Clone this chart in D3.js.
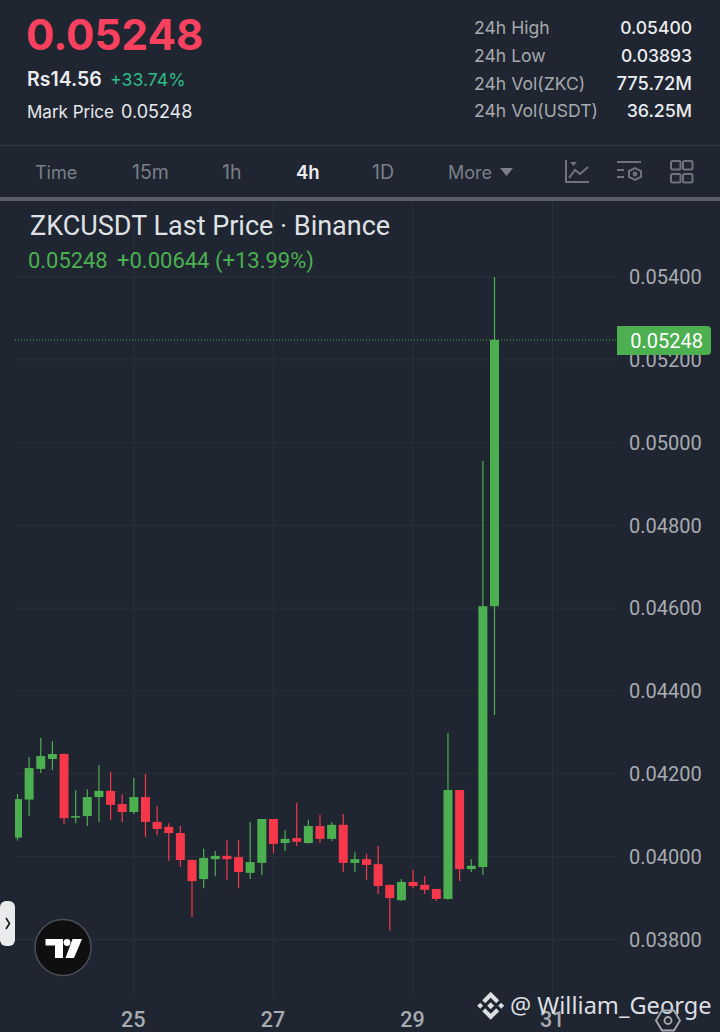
<!DOCTYPE html>
<html><head><meta charset="utf-8">
<script src="https://cdn.jsdelivr.net/npm/d3@7"></script>
<style>html,body{margin:0;padding:0;background:#1f2631;overflow:hidden}svg{display:block}</style>
</head><body><svg id="c" width="720" height="1032"></svg>
<script>
const startTime = "2025-10-23T08:00:00Z";
const stepHours = 4;
const opens  = [.04046,.04138,.04212,.04236,.04248,.04096,.04098,.04144,.04159,.04127,.04108,.04144,.04084,.04072,.04057,.03992,.03946,.03994,.04002,.03999,.03961,.03985,.04091,.04033,.04045,.04033,.04074,.04043,.04077,.03985,.03994,.03982,.03932,.03895,.03939,.03932,.03922,.03898,.04161,.03970,.03975,.04605];
const highs  = [.04151,.04241,.04287,.04279,.04250,.04161,.04163,.04221,.04205,.04151,.04190,.04200,.04122,.04081,.04074,.03994,.04019,.04014,.04040,.04040,.04084,.04089,.04091,.04064,.04130,.04089,.04101,.04084,.04103,.04011,.04007,.04026,.03932,.03946,.03968,.03953,.03922,.04299,.04161,.03994,.04956,.05400];
const lows   = [.04039,.04098,.04202,.04209,.04079,.04081,.04074,.04084,.04089,.04084,.04103,.04048,.04052,.03990,.03975,.03854,.03924,.03953,.03944,.03924,.03946,.03956,.04009,.04014,.04026,.04031,.04033,.04038,.03963,.03963,.03944,.03910,.03821,.03893,.03924,.03910,.03893,.03896,.03941,.03963,.03956,.04342];
const closes = [.04139,.04214,.04243,.04248,.04093,.04098,.04144,.04159,.04125,.04108,.04144,.04084,.04067,.04057,.03992,.03941,.03997,.04002,.03994,.03963,.03987,.04091,.04031,.04043,.04036,.04074,.04043,.04077,.03985,.03994,.03980,.03929,.03900,.03939,.03929,.03920,.03898,.04161,.03970,.03978,.04605,.05248];
const priceTicks = [.038,.040,.042,.044,.046,.048,.050,.052,.054];
const dateTicks = [25,27,29,31].map(d=>new Date(Date.UTC(2025,9,d)));
const lastPrice = .05248;
const tabs = ["Time","15m","1h","4h","1D","More"];
const statLabels = ["24h High","24h Low","24h Vol(ZKC)","24h Vol(USDT)"];
const statValues = ["0.05400","0.03893","775.72M","36.25M"];

const tabX = [35,132,222,296,372,448];
const tabSize = [18,19.5,19.5,18.5,19.5,18];
const statSize = [17.5,17.5,18.3,17.8];
const UI='Inter,"Noto Sans",sans-serif', TV='Roboto,sans-serif';
const GREEN='#4caf50', RED='#f7374a', GRID='#2a313b';
const svg=d3.select('#c');
function T(x,y,s,size,fill,weight,font,anchor){return svg.append('text').attr('x',x).attr('y',y).text(s).attr('font-size',size).attr('fill',fill).attr('font-weight',weight||400).attr('font-family',font||UI).attr('text-anchor',anchor||'start');}

svg.append('rect').attr('width',720).attr('height',1032).attr('fill','#1f2631');

// scales
const times=opens.map((_,i)=>new Date(+new Date(startTime)+i*stepHours*3600e3));
const x=d3.scaleUtc().domain([times[0],times[times.length-1]]).range([17.5,494.5]);
const y=d3.scaleLinear().domain([.038,.054]).range([939.5,277]);
const L=15,R=617;

// grid
svg.append('g').selectAll('line').data(priceTicks).join('line').attr('x1',L).attr('x2',R).attr('y1',d=>y(d)).attr('y2',d=>y(d)).attr('stroke',GRID).attr('stroke-width',1);
svg.append('g').selectAll('line').data(dateTicks).join('line').attr('x1',d=>x(d)).attr('x2',d=>x(d)).attr('y1',200).attr('y2',997).attr('stroke',GRID).attr('stroke-width',1);

// candles
svg.append('defs').append('clipPath').attr('id','clip').append('rect').attr('x',L).attr('y',200).attr('width',R-L).attr('height',797);
const g=svg.append('g').attr('clip-path','url(#clip)');
const col=i=>closes[i]>=opens[i]?GREEN:RED;
g.selectAll('line.w').data(times).join('line').attr('class','w').attr('x1',d=>x(d)).attr('x2',d=>x(d)).attr('y1',(d,i)=>y(highs[i])).attr('y2',(d,i)=>y(lows[i])).attr('stroke',(d,i)=>col(i)).attr('stroke-width',1.2);
g.selectAll('rect.b').data(times).join('rect').attr('class','b').attr('x',d=>x(d)-4.5).attr('width',9).attr('y',(d,i)=>y(Math.max(opens[i],closes[i]))).attr('height',(d,i)=>Math.max(1.5,Math.abs(y(opens[i])-y(closes[i])))).attr('fill',(d,i)=>col(i));

// last price line
svg.append('line').attr('x1',L).attr('x2',R).attr('y1',y(lastPrice)).attr('y2',y(lastPrice)).attr('stroke',GREEN).attr('stroke-width',1).attr('stroke-dasharray','1 2');

// axes
const ay=svg.append('g').attr('transform','translate(617,0)').call(d3.axisRight(y).tickValues(priceTicks).tickFormat(d3.format('.5f')).tickSize(0).tickPadding(12));
ay.select('.domain').remove();
ay.selectAll('text').attr('font-family',TV).attr('font-size',20).attr('fill','#a8abb0').attr('dy','.33em');
const ax=svg.append('g').attr('transform','translate(-1,1008)').call(d3.axisBottom(x).tickValues(dateTicks).tickFormat(d3.utcFormat('%d')).tickSize(0).tickPadding(4));
ax.select('.domain').remove();
ax.selectAll('text').attr('font-family',TV).attr('font-size',21.5).attr('font-weight',500).attr('fill','#a8abb0');

// last price tag
svg.append('path').attr('d','M617,326 H707 Q711,326 711,330 V351 Q711,355 707,355 H617 Z').attr('fill',GREEN);
T(703,348,d3.format('.5f')(lastPrice),20,'#fff',400,TV,'end');

// header
T(26,50,'0.05248',42.2,'#f8415e',700);
T(27,86,'Rs14.56',19.5,'#eaecef',600);
T(110,86,'+33.74%',17.7,'#2ebd85',400);
T(27,118,'Mark Price',17,'#e6e8ea',400);
T(121,118,'0.05248',18,'#e6e8ea',400);
statLabels.forEach((s,i)=>{const yy=34+i*27.8;T(474,yy,s,17.6,'#a6a9ae',400);T(692,yy,statValues[i],statSize[i],'#eaecef',500,UI,'end');});

// separators
svg.append('rect').attr('y',145).attr('width',720).attr('height',1).attr('fill','#333a45');
svg.append('rect').attr('y',197).attr('width',720).attr('height',4).attr('fill','#5a5e68');

// tabs
tabs.forEach((s,i)=>T(tabX[i],179,s,tabSize[i],s==='4h'?'#eaecef':'#7b7f87',s==='4h'?600:400));
svg.append('path').attr('d','M500,168 H513 L506.5,176 Z').attr('fill','#7b7f87');
const ic=svg.append('g').attr('fill','none').attr('stroke','#6f737c').attr('stroke-width',2);
ic.append('path').attr('d','M566,160 V182 H589 M569,178 L575,170 L580,174 L588,167');
ic.append('path').attr('d','M617,162 H641 M617,170 H624 M617,177 H624 M629,171 L635,168 L641,171 V177 L635,180 L629,177 Z');
ic.append('circle').attr('cx',635).attr('cy',174).attr('r',1.4);
[[671,161],[683,161],[671,174],[683,174]].forEach(p=>ic.append('rect').attr('x',p[0]).attr('y',p[1]).attr('width',9.5).attr('height',8.5).attr('rx',1.5));
svg.append('path').attr('d','M570,162 H577 L573.5,166 Z').attr('fill','#6f737c');

// title
T(30,235,'ZKCUSDT Last Price · Binance',27,'#dfe1e4',400,TV);
T(28,268,'0.05248',21.9,GREEN,400,TV);
T(117,268,'+0.00644 (+13.99%)',22,GREEN,400,TV);

// handle
svg.append('rect').attr('x',0).attr('y',901).attr('width',15).attr('height',45).attr('rx',6).attr('fill','#e9eaec');
svg.append('path').attr('d','M6,918 L9.5,923.5 L6,929').attr('fill','none').attr('stroke','#111').attr('stroke-width',1.6);

// TV logo
svg.append('circle').attr('cx',63).attr('cy',947.5).attr('r',28).attr('fill','#0f0f10').attr('stroke','#4a4e57').attr('stroke-width',1.5);
svg.append('path').attr('d','M45.5,939 H63 V958 H55 V945.5 H45.5 Z M72.5,939 H82 L74,958 H65.5 Z').attr('fill','#fff');
svg.append('circle').attr('cx',67).attr('cy',942.5).attr('r',3.4).attr('fill','#fff');

// watermark
const cx=490.7, cy=1005.7;
svg.append('path').attr('fill','#dcdee1').attr('transform',`translate(${cx},${cy})`).attr('d','M0,-14 L8.5,-5.5 L5.5,-2.5 L0,-8 L-5.5,-2.5 L-8.5,-5.5 Z M0,14 L8.5,5.5 L5.5,2.5 L0,8 L-5.5,2.5 L-8.5,5.5 Z M0,-3.5 L3.5,0 L0,3.5 L-3.5,0 Z M-10.5,-3 L-7.5,0 L-10.5,3 L-13.5,0 Z M10.5,-3 L13.5,0 L10.5,3 L7.5,0 Z');
T(510,1014,'@ William_George',23.6,'#dcdee1',400,'"Noto Sans",sans-serif');
svg.append('path').attr('d','M656,1020.5 L662,1010.5 H674 L680,1020.5 L674,1030.5 H662 Z').attr('fill','none').attr('stroke','#a8abb0').attr('stroke-width',1.8);
svg.append('circle').attr('cx',668).attr('cy',1020.5).attr('r',3.5).attr('fill','none').attr('stroke','#a8abb0').attr('stroke-width',1.8);
</script></body></html>
